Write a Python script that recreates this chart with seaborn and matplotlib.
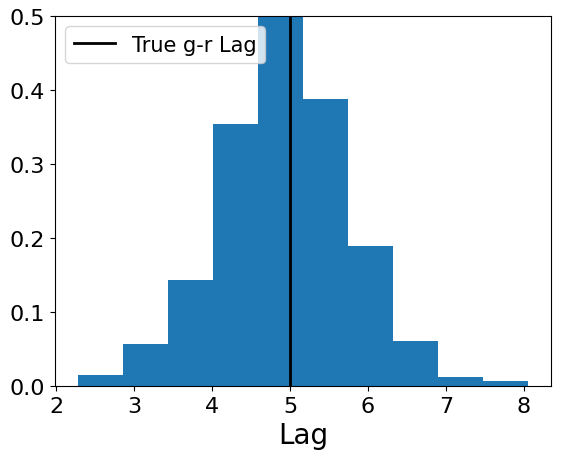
import numpy as np
import pandas as pd
import matplotlib
matplotlib.use("Agg")
import matplotlib.pyplot as plt
import seaborn as sns

# Histogram bin edges and bar heights (density)
bin_edges = [2.27, 2.849, 3.428, 4.007, 4.586, 5.165, 5.744, 6.323, 6.902, 7.481, 8.06]
bar_heights = [0.015, 0.056, 0.143, 0.354, 0.506, 0.388, 0.189, 0.060, 0.012, 0.007]
true_lag = 5.0

edges = np.array(bin_edges)
df = pd.DataFrame({"lag": (edges[:-1] + edges[1:]) / 2, "height": bar_heights})

fig, ax = plt.subplots(figsize=(5.61, 4.60), dpi=100)
fig.subplots_adjust(left=0.098, right=0.982, top=0.963, bottom=0.159)

sns.histplot(data=df, x="lag", weights="height", bins=bin_edges, stat="count",
             color="#1f77b4", alpha=1.0, linewidth=0, ax=ax)
ax.axvline(true_lag, color="black", lw=2, label="True g-r Lag")

ax.set_ylim(0, 0.5)
ax.set_xlabel("Lag", fontsize=20)
ax.set_ylabel("")
ax.tick_params(labelsize=16)
ax.legend(loc="upper left", fontsize=15)

plt.savefig("out.png", dpi=100)
